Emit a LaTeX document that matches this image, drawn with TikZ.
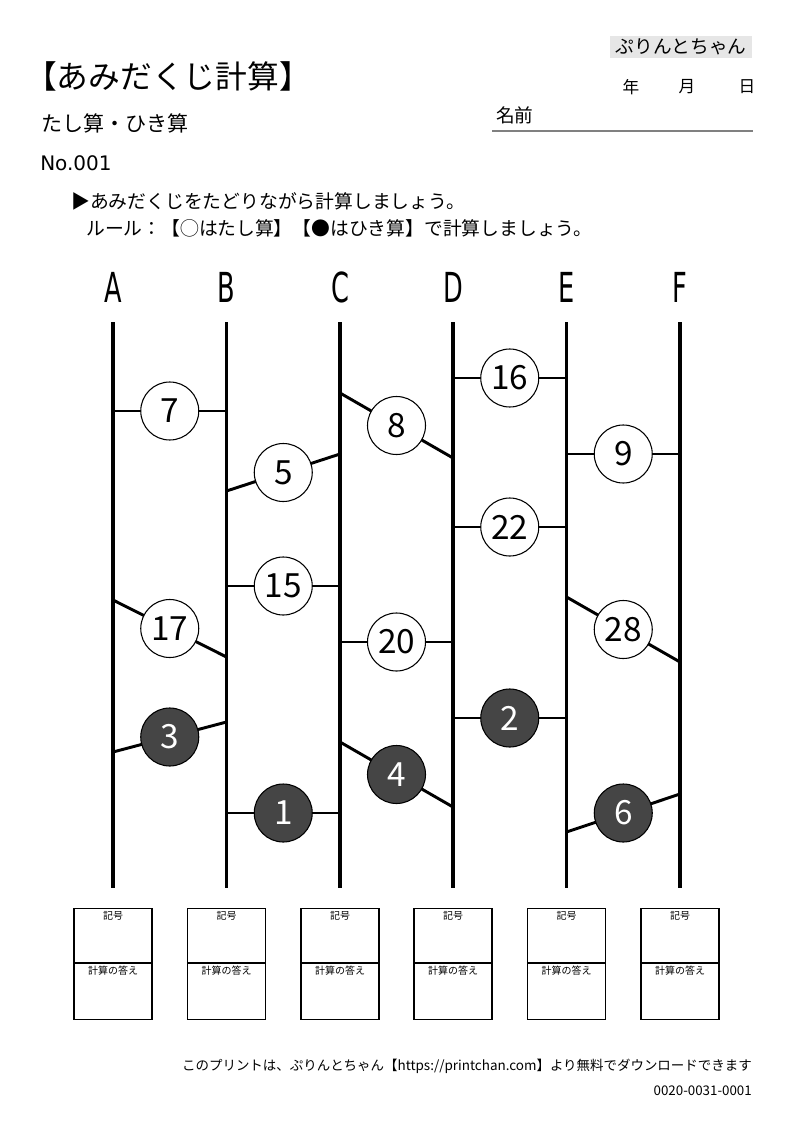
\documentclass[tikz,border=0pt]{standalone}
\usepackage{fontspec}
\setmainfont{Noto Sans CJK JP}
\newfontfamily\colfont[FakeStretch=0.62]{DejaVu Sans}
\newfontfamily\nofont{DejaVu Sans}
\usetikzlibrary{positioning,calc}
\definecolor{darkball}{HTML}{454545}
\definecolor{tagbg}{HTML}{E6E6E6}
\definecolor{rulegray}{HTML}{808080}
\tikzset{
  pole/.style={line width=2.5pt},
  rung/.style={line width=2.2pt},
  wball/.style={circle,draw,line width=0.8pt,fill=white,minimum size=43.5pt,inner sep=0pt,
    font=\fontsize{25}{25}\selectfont},
  bball/.style={wball,fill=darkball,text=white},
  collabel/.style={inner sep=0pt,font=\colfont\fontsize{31}{31}\selectfont},
  ansbox/.style={draw,line width=1.1pt,minimum width=58.5pt,minimum height=83.25pt,inner sep=0pt,anchor=north},
  boxlabel/.style={inner sep=0pt,font=\fontsize{7.5}{7.5}\selectfont},
  plain/.style={inner sep=0pt,anchor=west}
}
\begin{document}
\begin{tikzpicture}[x=0.75pt,y=-0.75pt]
  \useasboundingbox (0,0) rectangle (794,1123);
  % header
  \node (title) [plain,font=\fontsize{23.8}{23.8}\selectfont] at (25,76) {【あみだくじ計算】};
  \node (kind) [plain,font=\fontsize{15.8}{15.8}\selectfont] at (41,123) {たし算・ひき算};
  \node (num) [plain,font=\nofont\fontsize{15}{15}\selectfont] at (40,163) {No.001};
  \node (brand) [fill=tagbg,minimum width=107pt,minimum height=16.5pt,inner sep=0pt,
    font=\fontsize{14}{14}\selectfont] at (681,47) {ぷりんとちゃん};
  \node (year) [inner sep=0pt,font=\fontsize{12.5}{12.5}\selectfont] at (631,87) {年};
  \node (month) [inner sep=0pt,font=\fontsize{12.5}{12.5}\selectfont] at (687,87) {月};
  \node (day) [inner sep=0pt,font=\fontsize{12.5}{12.5}\selectfont] at (747,87) {日};
  \node (name) [plain,font=\fontsize{14}{14}\selectfont] at (496,115) {名前};
  \coordinate (nameL) at (492,131);
  \coordinate (nameR) at (753,131);
  \draw[rulegray,line width=0.8pt] (nameL) -- (nameR);
  % instructions
  \node (rule1) [plain,font=\fontsize{14.1}{14.1}\selectfont] at (71,201) {▶あみだくじをたどりながら計算しましょう。};
  \node (rule2) [plain,font=\fontsize{14.1}{14.1}\selectfont] at (86,228) {ルール：【◯はたし算】【●はひき算】で計算しましょう。};
  % poles and answer boxes
  \foreach \c/\x in {A/113,B/226.5,C/340,D/453,E/566.5,F/680}{
    \node (lab\c) [collabel] at (\x,287) {\c};
    \coordinate (top\c) at (\x,322);
    \coordinate (bot\c) at (\x,888);
    \draw[pole] (top\c) -- (bot\c);
    \node (box\c) [ansbox] at (\x,908) {};
    \draw[line width=1.1pt] (box\c.west |- 0,963) -- (box\c.east |- 0,963);
    \node (sym\c) [boxlabel] at (\x,916) {記号};
    \node (res\c) [boxlabel] at (\x,971) {計算の答え};
  }
  % rungs
  \draw[rung] (topA |- 0,411) -- node[wball] (n7) {7} (topB |- 0,411);
  \draw[rung] (topB |- 0,491) -- node[wball] (n5) {5} (topC |- 0,454);
  \draw[rung] (topC |- 0,393) -- node[wball] (n8) {8} (topD |- 0,458);
  \draw[rung] (topD |- 0,378) -- node[wball] (n16) {16} (topE |- 0,378);
  \draw[rung] (topE |- 0,454) -- node[wball] (n9) {9} (topF |- 0,454);
  \draw[rung] (topD |- 0,527) -- node[wball] (n22) {22} (topE |- 0,527);
  \draw[rung] (topB |- 0,586) -- node[wball] (n15) {15} (topC |- 0,586);
  \draw[rung] (topA |- 0,600) -- node[wball] (n17) {17} (topB |- 0,657);
  \draw[rung] (topC |- 0,642) -- node[wball] (n20) {20} (topD |- 0,642);
  \draw[rung] (topE |- 0,597) -- node[wball] (n28) {28} (topF |- 0,662);
  \draw[rung] (topA |- 0,752) -- node[bball] (n3) {3} (topB |- 0,722);
  \draw[rung] (topD |- 0,718) -- node[bball] (n2) {2} (topE |- 0,718);
  \draw[rung] (topC |- 0,742) -- node[bball] (n4) {4} (topD |- 0,807);
  \draw[rung] (topB |- 0,813) -- node[bball] (n1) {1} (topC |- 0,813);
  \draw[rung] (topE |- 0,832) -- node[bball] (n6) {6} (topF |- 0,794);
  % footer
  \node (foot) [inner sep=0pt,anchor=east,font=\fontsize{10.1}{10.1}\selectfont] at (752,1066)
    {このプリントは、ぷりんとちゃん【https://printchan.com】より無料でダウンロードできます};
  \node (code) [inner sep=0pt,anchor=east,font=\fontsize{10}{10}\selectfont] at (752,1091) {0020-0031-0001};
\end{tikzpicture}
\end{document}
